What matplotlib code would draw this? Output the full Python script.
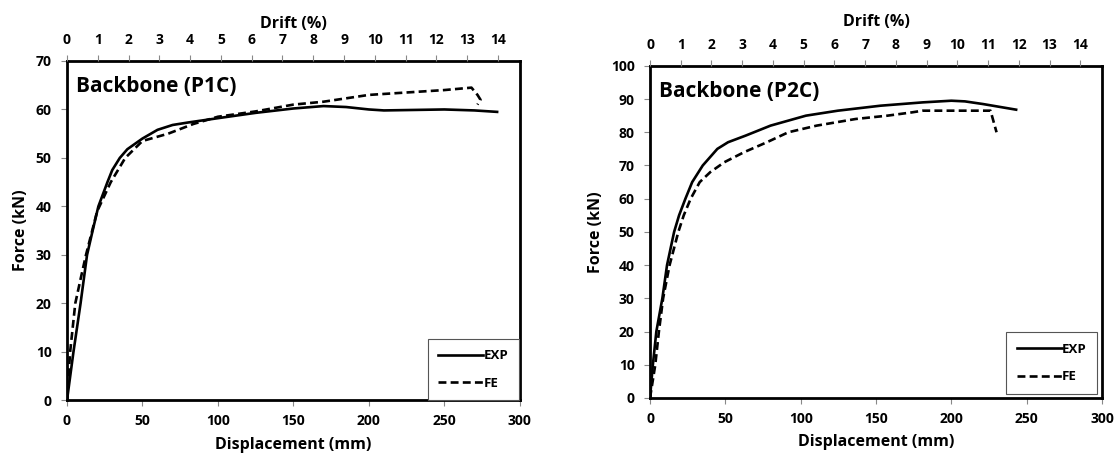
import matplotlib
matplotlib.use("Agg")
import matplotlib.pyplot as plt

plt.rcParams["font.family"] = ["Open Sans", "DejaVu Sans"]
plt.rcParams["font.weight"] = "bold"

# Panel P1C (displacement mm, force kN)
p1_exp_x = [0, 4.3, 9, 13.3, 17, 20.8, 26.8, 30, 35, 40, 50, 60, 70, 80, 100, 125, 150, 170, 185, 200, 210, 250, 270, 285]
p1_exp_y = [0, 10, 20, 30, 35, 40, 45, 47.5, 50, 51.8, 54, 55.8, 56.8, 57.3, 58.2, 59.3, 60.2, 60.7, 60.5, 60.0, 59.8, 60.0, 59.8, 59.5]
p1_fe_x = [0, 2.1, 5.5, 9, 12.6, 20, 29, 38.6, 50, 67, 83.7, 100, 125, 150, 170, 200, 250, 268, 272, 274, 272]
p1_fe_y = [0, 10, 20, 25, 30, 39, 45, 50, 53.5, 55.0, 57.0, 58.5, 59.6, 61.0, 61.6, 63.0, 64.0, 64.5, 63.0, 62.0, 61.0]

# Panel P2C
p2_exp_x = [0, 1.9, 4.2, 8.2, 11.3, 16, 19.3, 23.5, 28, 35, 44.7, 51.8, 63.5, 80, 103.5, 124.7, 153, 181, 200, 209, 221, 243]
p2_exp_y = [0, 10, 20, 30, 40, 50, 55, 60, 65, 70, 75, 77, 79, 82, 85, 86.5, 88, 89, 89.5, 89.3, 88.5, 86.8]
p2_fe_x = [0, 3.5, 5.9, 8.7, 13, 18.8, 22.4, 27, 33, 40, 49.4, 62.4, 77.6, 91.8, 110.6, 136.5, 157.6, 174, 181, 226, 230]
p2_fe_y = [0, 10, 20, 30, 40, 50, 55, 60, 65, 68, 71, 74, 77, 80, 82, 84, 85, 86, 86.5, 86.5, 80]

panels = [
    ("Backbone (P1C)", p1_exp_x, p1_exp_y, p1_fe_x, p1_fe_y, 70,
     [0.0599, 0.12, 0.405, 0.746], (0.999, 0.0), 4.0),
    ("Backbone (P2C)", p2_exp_x, p2_exp_y, p2_fe_x, p2_fe_y, 100,
     [0.5814, 0.1253, 0.4043, 0.730], (0.99, 0.012), 8.5),
]

drift_ticks = list(range(0, 15))

fig = plt.figure(figsize=(11.18, 4.55), dpi=100)

for title, ex, ey, fx, fy, ymax, rect, leg_anchor, drift_pad in panels:
    ax = fig.add_axes(rect)
    ax.plot(ex, ey, color="black", lw=1.9, label="EXP")
    ax.plot(fx, fy, color="black", lw=1.9, ls=(0, (3, 1.6)), label="FE")
    ax.set_xlim(0, 300)
    ax.set_ylim(0, ymax)
    ax.set_xticks(range(0, 301, 50))
    ax.set_yticks(range(0, ymax + 1, 10))
    ax.tick_params(axis="both", labelsize=10, length=4, color="#888888")
    ax.tick_params(axis="x", pad=6)
    ax.tick_params(axis="y", pad=7)
    for sp in ax.spines.values():
        sp.set_linewidth(2)
        sp.set_color("black")
    ax.set_xlabel("Displacement (mm)", fontsize=11.5, fontweight="bold", labelpad=6)
    ax.set_ylabel("Force (kN)", fontsize=11.5, fontweight="bold", labelpad=5)
    ax.text(0.02, 0.955, title, transform=ax.transAxes, fontsize=15,
            fontweight="bold", va="top", ha="left")

    top = ax.twiny()
    top.set_xlim(0, 300 / 20.4)
    top.set_xticks(drift_ticks)
    top.tick_params(axis="x", labelsize=10, length=4, color="#888888", pad=6)
    for sp in top.spines.values():
        sp.set_visible(False)
    top.set_xlabel("Drift (%)", fontsize=11.5, fontweight="bold", labelpad=drift_pad)

    leg = ax.legend(loc="lower right", bbox_to_anchor=leg_anchor, fontsize=9.5,
                    handlelength=3.4, handletextpad=0.05, labelspacing=1.1,
                    borderpad=0.8, fancybox=False, framealpha=1,
                    edgecolor="#555555", borderaxespad=0)
    leg.get_frame().set_linewidth(0.8)

fig.savefig("out.png", dpi=100)
